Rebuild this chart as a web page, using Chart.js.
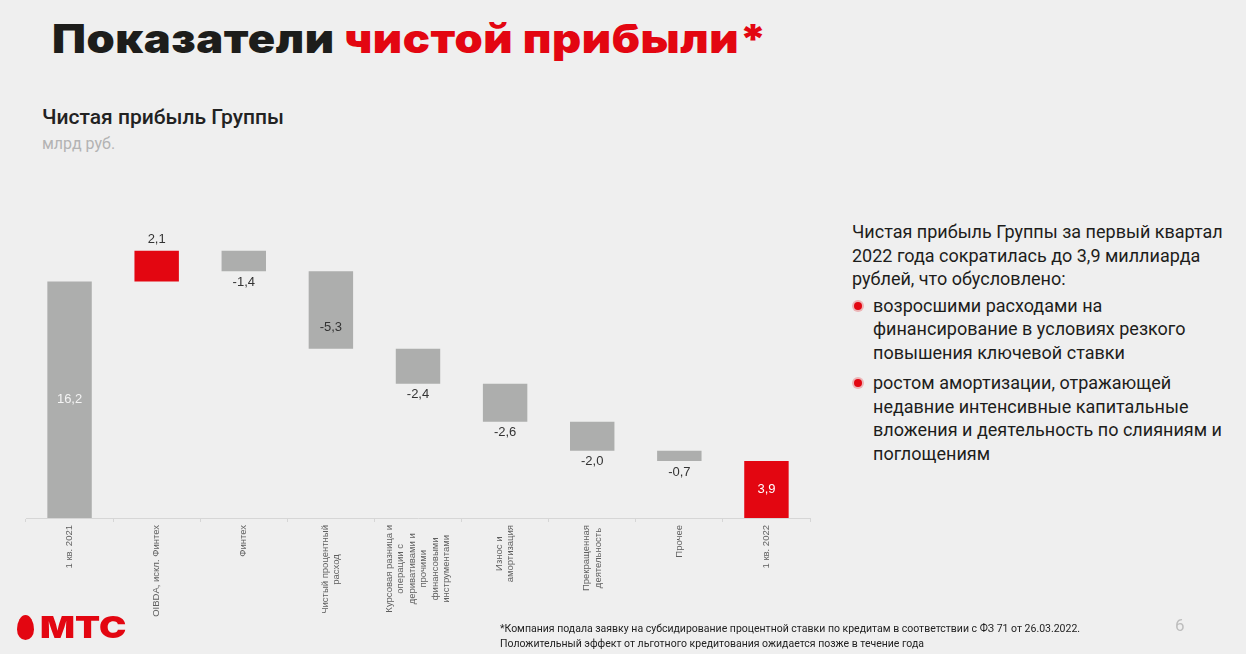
<!DOCTYPE html>
<html lang="ru">
<head>
<meta charset="utf-8">
<script src="https://cdn.jsdelivr.net/npm/chart.js@4.4.1/dist/chart.umd.min.js"></script>
<style>
  html, body { margin: 0; padding: 0; background: #efefef; }
  body { width: 1246px; height: 654px; position: relative; overflow: hidden; font-family: Roboto, "Noto Sans", sans-serif; color: #1d1d1b; }
  .title { position: absolute; left: 52px; top: 14px; font-family: Inter, sans-serif; font-weight: 900; font-size: 40px; letter-spacing: 0.5px; color: #1d1d1b; white-space: nowrap; transform: scaleX(1.13); transform-origin: left top; }
  .title span { color: #e30611; }
  .sub { position: absolute; left: 42px; top: 105px; font-size: 21px; font-weight: 500; color: #222; }
  .unit { position: absolute; left: 42px; top: 134px; font-size: 16px; color: #b3b3b3; }
  .side { position: absolute; left: 852px; top: 220px; width: 390px; font-size: 18px; line-height: 23.5px; color: #1d1d1b; }
  .side ul { list-style: none; margin: 3px 0 0 0; padding: 0; }
  .side li { position: relative; padding-left: 21px; margin-bottom: 7px; }
  .side li::before { content: ""; position: absolute; left: 2px; top: 8px; width: 8px; height: 8px; border-radius: 50%; background: #e30611; box-shadow: 0 0 0 2px rgba(227,6,17,0.25); }
  #wrap { position: absolute; left: 0; top: 200px; width: 830px; height: 440px; }
  .logo { position: absolute; left: 17px; top: 612px; display: flex; align-items: center; }
  .logo .egg { width: 17px; height: 25px; background: #e30611; border-radius: 50% 50% 50% 50% / 58% 58% 42% 42%; margin-right: 6px; }
  .logo .txt { font-family: Inter, sans-serif; font-weight: 900; font-size: 30px; line-height: 30px; color: #e30611; transform: scaleX(1.22); transform-origin: left center; }
  .foot { position: absolute; left: 500px; top: 621px; font-size: 10.5px; line-height: 15px; color: #222; white-space: nowrap; }
  .page { position: absolute; left: 1175px; top: 615px; font-size: 17px; color: #bdbdbd; }
</style>
</head>
<body>
<div class="title">Показатели <span>чистой прибыли*</span></div>
<div class="sub">Чистая прибыль Группы</div>
<div class="unit">млрд руб.</div>

<div id="wrap"><canvas id="chart"></canvas></div>

<div class="side">
  Чистая прибыль Группы за первый квартал 2022 года сократилась до 3,9 миллиарда рублей, что обусловлено:
  <ul>
    <li>возросшими расходами на финансирование в условиях резкого повышения ключевой ставки</li>
    <li>ростом амортизации, отражающей недавние интенсивные капитальные вложения и деятельность по слияниям и поглощениям</li>
  </ul>
</div>

<div class="logo"><div class="egg"></div><div class="txt">МТС</div></div>
<div class="foot">*Компания подала заявку на субсидирование процентной ставки по кредитам в соответствии с ФЗ 71 от 26.03.2022.<br>Положительный эффект от льготного кредитования ожидается позже в течение года</div>
<div class="page">6</div>

<script>
// categories and values, млрд руб.
const categories = [
  ["1 кв. 2021"],
  ["OIBDA, искл. Финтех"],
  ["Финтех"],
  ["Чистый процентный", "расход"],
  ["Курсовая разница и", "операции с", "деривативами и", "прочими", "финансовыми", "инструментами"],
  ["Износ и", "амортизация"],
  ["Прекращенная", "деятельность"],
  ["Прочее"],
  ["1 кв. 2022"],
];
const deltas = [16.2, 2.1, -1.4, -5.3, -2.4, -2.6, -2.0, -0.7, 3.9];
const isTotal = [true, false, false, false, false, false, false, false, true];

const RED = "#e30611";
const GREY = "#adaead";

// floating ranges for the waterfall
const ranges = [];
let run = 0;
deltas.forEach((v, i) => {
  if (isTotal[i]) { ranges.push([0, v]); run = v; }
  else { ranges.push([run, run + v]); run += v; }
});
const barColors = deltas.map((v, i) => (i === 0 ? GREY : (v > 0 ? RED : GREY)));

// where each value label sits relative to its bar
const labelPos = ["mid", "above", "below", "inbottom", "below", "below", "below", "below", "mid"];
const fmt = v => v.toFixed(1).replace(".", ",");

const valueLabels = {
  id: "valueLabels",
  afterDatasetsDraw(chart) {
    const { ctx, scales: { y } } = chart;
    const meta = chart.getDatasetMeta(0);
    ctx.save();
    ctx.font = "13px 'Liberation Sans', Arial, sans-serif";
    ctx.textAlign = "center";
    ctx.textBaseline = "middle";
    meta.data.forEach((bar, i) => {
      const a = y.getPixelForValue(ranges[i][0]);
      const b = y.getPixelForValue(ranges[i][1]);
      const top = Math.min(a, b), bottom = Math.max(a, b);
      let ty, color = "#333";
      switch (labelPos[i]) {
        case "mid": ty = (top + bottom) / 2; color = barColors[i] === RED ? "#fff" : "#f4f4f4"; break;
        case "above": ty = top - 11; break;
        case "below": ty = bottom + 11; break;
        case "inbottom": ty = bottom - 21; break;
      }
      ctx.fillStyle = color;
      ctx.fillText(fmt(deltas[i]), bar.x, ty);
    });
    ctx.restore();
  }
};

// rotated, centred multi-line category labels
const catLabels = {
  id: "catLabels",
  afterDraw(chart) {
    const { ctx, scales: { x } } = chart;
    const lineH = 11.5;
    ctx.save();
    ctx.font = "9.5px 'Liberation Sans', Arial, sans-serif";
    ctx.fillStyle = "#5f5f5f";
    ctx.textAlign = "center";
    ctx.textBaseline = "middle";
    categories.forEach((lines, i) => {
      const cx = x.getPixelForTick(i);
      const maxW = Math.max(...lines.map(l => ctx.measureText(l).width));
      const cy = x.top + 7 + maxW / 2;
      lines.forEach((l, j) => {
        ctx.save();
        ctx.translate(cx + (j - (lines.length - 1) / 2) * lineH, cy);
        ctx.rotate(-Math.PI / 2);
        ctx.fillText(l, 0, 0);
        ctx.restore();
      });
    });
    ctx.restore();
  }
};

new Chart(document.getElementById("chart"), {
  type: "bar",
  data: {
    labels: categories.map(c => c.join(" ")),
    datasets: [{
      data: ranges,
      backgroundColor: barColors,
      borderWidth: 0,
      barPercentage: 0.51,
      categoryPercentage: 1.0,
      borderSkipped: false,
    }],
  },
  options: {
    responsive: true, maintainAspectRatio: false,
    animation: false,
    layout: { padding: { left: 26, right: 20, top: 26, bottom: 0 } },
    plugins: { legend: { display: false }, tooltip: { enabled: false } },
    scales: {
      x: {
        grid: { drawOnChartArea: false, drawTicks: true, tickLength: 4, color: "#d6d6d6", offset: true },
        border: { color: "#d6d6d6" },
        ticks: { display: false },
        afterFit: s => { s.height = 122; },
      },
      y: { display: false, min: 0, max: 20 },
    },
  },
  plugins: [valueLabels, catLabels],
});
</script>
</body>
</html>
